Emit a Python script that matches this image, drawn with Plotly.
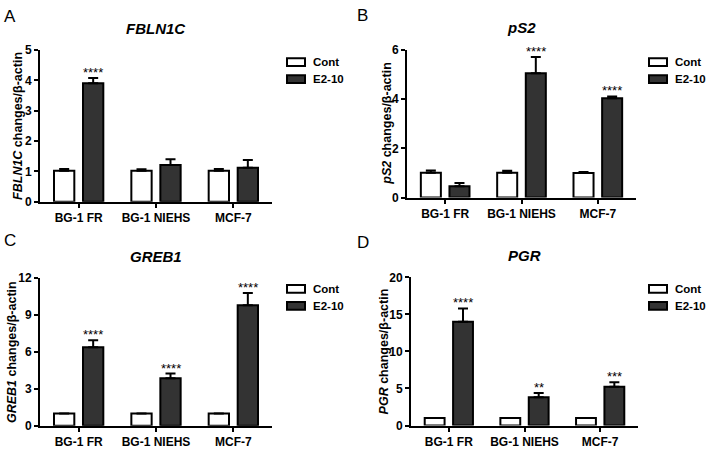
import plotly.graph_objects as go

categories = ["BG-1 FR", "BG-1 NIEHS", "MCF-7"]
series_names = ["Cont", "E2-10"]

# Panel A: FBLN1C
a_cont = [1.02, 1.02, 1.02]
a_cont_err = [0.06, 0.05, 0.06]
a_e2 = [3.91, 1.21, 1.12]
a_e2_err = [0.17, 0.19, 0.26]
a_stars = ["****", "", ""]

# Panel B: pS2
b_cont = [1.01, 1.01, 1.00]
b_cont_err = [0.09, 0.08, 0.04]
b_e2 = [0.46, 5.05, 4.04]
b_e2_err = [0.13, 0.66, 0.07]
b_stars = ["", "****", "****"]

# Panel C: GREB1
c_cont = [1.0, 1.0, 1.0]
c_cont_err = [0.0, 0.0, 0.0]
c_e2 = [6.4, 3.86, 9.81]
c_e2_err = [0.55, 0.39, 1.0]
c_stars = ["****", "****", "****"]

# Panel D: PGR
d_cont = [1.0, 1.0, 1.0]
d_cont_err = [0.0, 0.0, 0.0]
d_e2 = [14.0, 3.83, 5.23]
d_e2_err = [1.8, 0.57, 0.61]
d_stars = ["****", "**", "***"]

genes = ["FBLN1C", "pS2", "GREB1", "PGR"]
letters = ["A", "B", "C", "D"]
y_ranges = [[0, 5], [0, 6], [0, 12], [0, 20]]
y_dticks = [1, 2, 3, 5]

panels = [
    (a_cont, a_cont_err, a_e2, a_e2_err, a_stars),
    (b_cont, b_cont_err, b_e2, b_e2_err, b_stars),
    (c_cont, c_cont_err, c_e2, c_e2_err, c_stars),
    (d_cont, d_cont_err, d_e2, d_e2_err, d_stars),
]

W, H = 706, 449
# plot-area pixel boxes (left, right, top, bottom)
boxes = [
    (40, 272, 44.5, 201),
    (407, 636, 44.3, 196.7),
    (40, 272, 280, 432.3),
    (411, 638, 279, 432),
]
ytitle_shift = [-22, -20, -28, -27]
# legend pixel anchors (box left, first row center y)
leg_pos = [(287, 57), (649, 57), (287, 291), (649, 291)]
letter_pos = [(2, 10), (355, 9), (2, 241), (355, 243)]

FONT = "Arial, Liberation Sans, sans-serif"
DARK = "#333333"

fig = go.Figure()
annotations = []
shapes = []
layout_axes = {}

for i, (cont, cont_err, e2, e2_err, stars) in enumerate(panels):
    k = "" if i == 0 else str(i + 1)
    xr, yr = "x" + k, "y" + k
    fig.add_trace(go.Bar(
        x=categories, y=cont, name=series_names[0], xaxis=xr, yaxis=yr,
        marker=dict(color="white", line=dict(color="black", width=2)),
        error_y=dict(type="data", symmetric=False, array=cont_err,
                     arrayminus=[0] * 3, color="black", thickness=2, width=5),
        offsetgroup="0", showlegend=False,
    ))
    fig.add_trace(go.Bar(
        x=categories, y=e2, name=series_names[1], xaxis=xr, yaxis=yr,
        marker=dict(color=DARK, line=dict(color="black", width=2)),
        error_y=dict(type="data", symmetric=False, array=e2_err,
                     arrayminus=[0] * 3, color="black", thickness=2, width=5),
        offsetgroup="1", showlegend=False,
    ))
    l, r, t, b = boxes[i]
    layout_axes["xaxis" + k] = dict(
        domain=[l / W, r / W], anchor=yr, range=[-0.5, 2.5],
        showline=True, linecolor="black", linewidth=2,
        ticks="outside", ticklen=4, tickwidth=1.5, tickcolor="black",
        tickfont=dict(family=FONT, size=12, color="black", weight="bold"),
        showgrid=False, zeroline=False, fixedrange=True,
    )
    layout_axes["yaxis" + k] = dict(
        domain=[1 - b / H, 1 - t / H], anchor=xr, range=y_ranges[i],
        dtick=y_dticks[i], tick0=0,
        showline=True, linecolor="black", linewidth=2,
        ticks="outside", ticklen=4, tickwidth=2, tickcolor="black",
        tickfont=dict(family=FONT, size=12, color="black", weight="bold"),
        showgrid=False, zeroline=False, fixedrange=True,
    )
    xd, yd = xr + " domain", yr + " domain"
    # title
    annotations.append(dict(
        text="<b><i>%s</i></b>" % genes[i], xref=xd, yref=yd, x=0.5, y=1,
        yshift=22, showarrow=False, font=dict(family=FONT, size=15, color="black"),
        xanchor="center", yanchor="middle"))
    # y axis title
    annotations.append(dict(
        text="<b><i>%s</i> changes/β-actin</b>" % genes[i], xref=xd, yref=yd,
        x=0, y=0.5, xshift=ytitle_shift[i], showarrow=False, textangle=-90,
        font=dict(family=FONT, size=12.5, color="black"),
        xanchor="center", yanchor="middle"))
    # panel letter
    lx, ly = letter_pos[i]
    annotations.append(dict(
        text=letters[i], xref="paper", yref="paper", x=lx / W, y=1 - ly / H,
        showarrow=False, font=dict(family=FONT, size=17, color="black"),
        xanchor="left", yanchor="middle"))
    # significance stars
    for j, s in enumerate(stars):
        if s:
            annotations.append(dict(
                text=s, xref=xr, yref=yr, x=j, y=e2[j] + e2_err[j],
                xshift=14.5, yshift=-4, showarrow=False,
                font=dict(family=FONT, size=13, color="black"),
                xanchor="center", yanchor="bottom"))
    # legend
    bx, by = leg_pos[i]
    fills = ["white", DARK]
    for n in range(2):
        cy = by + n * 17.5
        shapes.append(dict(
            type="rect", xref="paper", yref="paper",
            x0=bx / W, x1=(bx + 18) / W, y0=1 - (cy + 4) / H, y1=1 - (cy - 4) / H,
            fillcolor=fills[n], line=dict(color="black", width=2)))
        annotations.append(dict(
            text="<b>%s</b>" % series_names[n], xref="paper", yref="paper",
            x=(bx + 24) / W, y=1 - cy / H, showarrow=False,
            font=dict(family=FONT, size=11.5, color="black"),
            xanchor="left", yanchor="middle"))

fig.update_layout(
    width=W, height=H, margin=dict(l=0, r=0, t=0, b=0),
    paper_bgcolor="white", plot_bgcolor="white",
    barmode="group", bargap=0.25, bargroupgap=0.3,
    showlegend=False, annotations=annotations, shapes=shapes,
    font=dict(family=FONT, color="black"),
    **layout_axes,
)

fig.write_html(
    "out.html",
    config={"displayModeBar": False},
    post_script="document.body.style.margin='0';document.body.style.overflow='hidden';",
)
